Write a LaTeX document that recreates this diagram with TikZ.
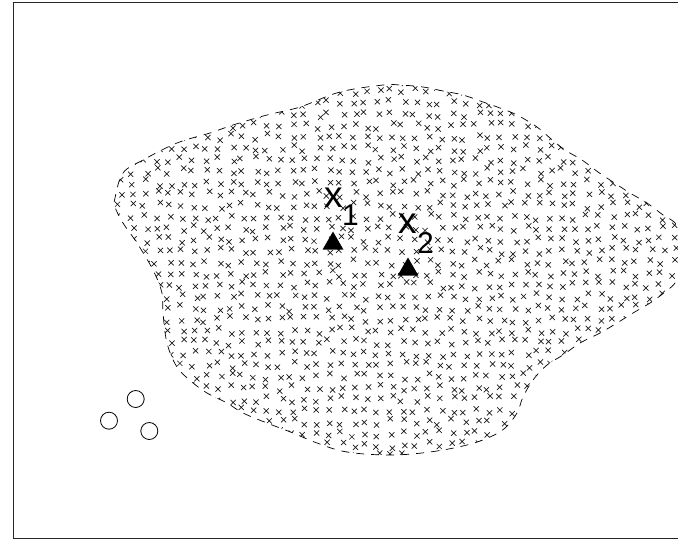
\documentclass[tikz,border=0pt]{standalone}
\usepackage{fontspec}
\setmainfont{Liberation Sans}
\usetikzlibrary{shapes.geometric}
\tikzset{
  frameline/.style={line width=0.8pt, draw=black!85},
  blobline/.style={line width=0.7pt, dash pattern=on 8pt off 7pt},
  mk/.style={line width=0.7pt, draw=black!90},
  tri/.style={regular polygon, regular polygon sides=3, fill=black, draw=none, inner sep=0pt, minimum size=24pt},
  ring/.style={circle, draw=black, line width=0.8pt, inner sep=0pt, minimum size=17pt},
  lab/.style={inner sep=0pt, outer sep=0pt, anchor=base west, font=\fontsize{37}{37}\selectfont},
  sublab/.style={inner sep=0pt, outer sep=0pt, anchor=base west, font=\fontsize{30}{30}\selectfont}
}
\begin{document}
\begin{tikzpicture}[x=1pt,y=-1pt]
\useasboundingbox (0,0) rectangle (678,539);
\clip (0,0) rectangle (678,539);
\coordinate (fa) at (700,2);
\coordinate (fb) at (13,2);
\coordinate (fc) at (13,538);
\coordinate (fd) at (700,538);
\draw[frameline] (fa) -- (fb) -- (fc) -- (fd);
\begin{scope}
\clip plot[smooth cycle, tension=0.6] coordinates {(115,198) (123,173) (143,160) (177,143) (210,133) (233,125) (267,115) (300,107) (340,92) (383,85) (400,85) (423,87) (443,91) (463,95) (483,102) (500,108) (517,115) (537,127) (550,138) (565,150) (582,160) (598,172) (613,182) (630,193) (647,203) (663,215) (677,225) (690,250) (677,280) (665,292) (650,303) (633,313) (617,323) (600,333) (580,343) (563,355) (547,365) (533,380) (523,397) (517,413) (505,428) (490,437) (467,445) (430,452) (390,455) (347,452) (317,443) (293,433) (267,423) (243,413) (227,403) (207,393) (192,382) (177,367) (167,343) (163,313) (162,293) (153,270) (137,243) (123,223) (115,207)};
\pgfmathsetseed{7}
\foreach \i in {0,...,48} {
  \foreach \j in {0,...,33} {
    \pgfmathsetmacro\px{108+\i*12.3+3.5*rand}
    \pgfmathsetmacro\py{80+\j*11.4+3.5*rand}
    \draw[mk] (\px-2.6,\py-2.6) -- (\px+2.6,\py+2.6) (\px-2.6,\py+2.6) -- (\px+2.6,\py-2.6);
  }
}
\end{scope}
\draw[blobline] plot[smooth cycle, tension=0.6] coordinates {(115,198) (123,173) (143,160) (177,143) (210,133) (233,125) (267,115) (300,107) (340,92) (383,85) (400,85) (423,87) (443,91) (463,95) (483,102) (500,108) (517,115) (537,127) (550,138) (565,150) (582,160) (598,172) (613,182) (630,193) (647,203) (663,215) (677,225) (690,250) (677,280) (665,292) (650,303) (633,313) (617,323) (600,333) (580,343) (563,355) (547,365) (533,380) (523,397) (517,413) (505,428) (490,437) (467,445) (430,452) (390,455) (347,452) (317,443) (293,433) (267,423) (243,413) (227,403) (207,393) (192,382) (177,367) (167,343) (163,313) (162,293) (153,270) (137,243) (123,223) (115,207)};
\node[tri] (t1) at (333,243.5) {};
\node[tri] (t2) at (408,269.5) {};
\node[lab] (x1) at (324,207) {x};
\node[sublab] (s1) at (342,225) {1};
\node[lab] (x2) at (398,233) {x};
\node[sublab] (s2) at (417,253) {2};
\node[ring] (c1) at (135.7,399) {};
\node[ring] (c2) at (109,420.7) {};
\node[ring] (c3) at (149.3,431) {};
\end{tikzpicture}
\end{document}
